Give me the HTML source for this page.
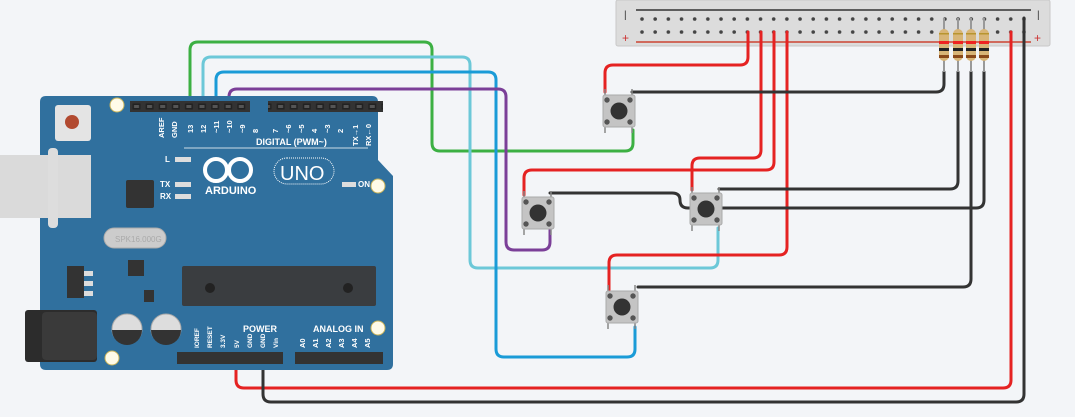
<!DOCTYPE html>
<html><head><meta charset="utf-8"><style>
html,body{margin:0;padding:0;background:#f3f5f8;}
svg{display:block;font-family:"Liberation Sans",sans-serif;}
</style></head><body>
<svg width="1075" height="417" viewBox="0 0 1075 417" xmlns="http://www.w3.org/2000/svg">
<rect width="1075" height="417" fill="#f3f5f8"/>
<rect x="616" y="0" width="434" height="46" rx="2" fill="#dcdcdc" stroke="#c8c8c8"/>
<line x1="636" y1="10" x2="1031" y2="10" stroke="#333" stroke-width="1.5"/>
<line x1="636" y1="42" x2="1031" y2="42" stroke="#c43" stroke-width="1.5"/>
<text x="624" y="18" font-size="10" fill="#333">|</text><text x="1037" y="18" font-size="10" fill="#333">|</text>
<text x="622" y="42" font-size="12" fill="#c33">+</text><text x="1034" y="42" font-size="12" fill="#c33">+</text>
<defs>
<pattern id="h" x="636.5" y="12" width="13.17" height="13" patternUnits="userSpaceOnUse"><circle cx="5.5" cy="7" r="1.8" fill="#444"/></pattern>
<pattern id="p" x="130" y="101" width="13.1" height="11" patternUnits="userSpaceOnUse"><rect x="2.5" y="2.5" width="8" height="6" fill="#222"/><rect x="4" y="4" width="5" height="3" fill="#555"/></pattern>
</defs>
<rect x="636" y="12" width="395" height="26" fill="url(#h)"/>
<g fill="none" stroke-width="3" stroke-linecap="round" stroke-linejoin="round">
<path d="M190 108 V50 Q190 42 198 42 H424 Q432 42 432 50 V143 Q432 151 440 151 H625 Q633 151 633 143 V130" stroke="#3cb043"/>
<path d="M203 108 V65 Q203 57 211 57 H462 Q470 57 470 65 V260 Q470 268 478 268 H710 Q718 268 718 260 V228" stroke="#6cc8d8"/>
<path d="M216 108 V80 Q216 72 224 72 H488 Q496 72 496 80 V349 Q496 357 504 357 H627 Q635 357 635 349 V327" stroke="#1a9bd7"/>
<path d="M229 108 V97 Q229 89 237 89 H498 Q506 89 506 97 V242 Q506 250 514 250 H542 Q550 250 550 242 V230" stroke="#7b3f98"/>
<g stroke="#e52222">
<path d="M748 32 V57 Q748 65 740 65 H613 Q605 65 605 73 V92"/>
<path d="M761 32 V150 Q761 158 753 158 H700 Q692 158 692 166 V190"/>
<path d="M774 32 V162 Q774 170 766 170 H532 Q524 170 524 178 V195"/>
<path d="M787 32 V247 Q787 255 779 255 H617 Q609 255 609 263 V290"/>
<path d="M1011 32 V380 Q1011 388 1003 388 H244 Q236 388 236 380 V356"/>
</g>
<g stroke="#333">
<path d="M1024 18 V394 Q1024 402 1016 402 H271 Q263 402 263 394 V356"/>
<path d="M632 92 H936 Q944 92 944 84 V72"/>
<path d="M719 189 H950 Q958 189 958 181 V72"/>
<path d="M550 193 H672 Q680 193 680 200 Q680 208 688 208 H976 Q984 208 984 200 V72"/>
<path d="M638 287 H963 Q971 287 971 279 V72"/>
</g>
</g>
<g>
<g id="r"><line x1="944" y1="18" x2="944" y2="72" stroke="#999" stroke-width="2"/>
<rect x="939" y="29" width="10" height="32" rx="5" fill="#d8b577"/>
<rect x="939" y="41" width="10" height="3" fill="#e22"/><rect x="939" y="48" width="10" height="3" fill="#222"/><rect x="939" y="55" width="10" height="3" fill="#8a4a1a"/><rect x="939" y="33" width="10" height="1.5" fill="#b8952f"/></g>
<use href="#r" x="14"/><use href="#r" x="27"/><use href="#r" x="40"/>
</g>
<g id="b">
<line x1="605" y1="89" x2="605" y2="133" stroke="#888" stroke-width="1.5"/><line x1="632" y1="89" x2="632" y2="133" stroke="#888" stroke-width="1.5"/>
<rect x="603" y="95" width="32" height="32" rx="2" fill="#c4c4c4" stroke="#aaa"/>
<circle cx="607" cy="100" r="2.7" fill="#555"/><circle cx="630" cy="100" r="2.7" fill="#555"/><circle cx="607" cy="122" r="2.7" fill="#555"/><circle cx="630" cy="122" r="2.7" fill="#555"/>
<circle cx="619" cy="111" r="8.5" fill="#333"/></g>
<use href="#b" x="-81" y="102"/><use href="#b" x="87" y="98"/><use href="#b" x="3" y="196"/>
<path d="M46 96 H372 Q378 96 378 102 V160 L393 176 V364 Q393 370 387 370 H46 Q40 370 40 364 V102 Q40 96 46 96Z" fill="#30709e"/>
<rect x="0" y="155" width="91" height="63" fill="#dadada"/><rect x="48" y="148" width="10" height="80" rx="4" fill="#ddd"/>
<rect x="55" y="105" width="36" height="36" rx="3" fill="#e4e4e4"/><circle cx="72" cy="122" r="7" fill="#b24a30"/>
<circle cx="117" cy="105" r="7" fill="#fffbe8" stroke="#c9b35a"/><circle cx="378" cy="186" r="7" fill="#fffbe8" stroke="#c9b35a"/>
<circle cx="378" cy="328" r="7" fill="#fffbe8" stroke="#c9b35a"/><circle cx="112" cy="358" r="7" fill="#fffbe8" stroke="#c9b35a"/>
<rect x="130" y="101" width="120" height="11" fill="#333"/><rect x="268" y="101" width="115" height="11" fill="#333"/>
<rect x="177" y="352" width="106" height="12" fill="#333"/><rect x="295" y="352" width="88" height="12" fill="#333"/>
<rect x="130" y="101" width="120" height="11" fill="url(#p)"/><rect x="268" y="101" width="115" height="11" fill="url(#p)"/>
<rect x="126" y="180" width="28" height="28" rx="2" fill="#333"/>
<rect x="104" y="228" width="62" height="20" rx="10" fill="#ccc" stroke="#aaa"/><text x="115" y="242" font-size="8" fill="#aaa">SPK16.000G</text>
<rect x="128" y="260" width="16" height="16" fill="#333"/>
<rect x="67" y="266" width="17" height="32" fill="#333"/><rect x="84" y="271" width="9" height="5" fill="#ddd"/><rect x="84" y="281" width="9" height="5" fill="#ddd"/><rect x="84" y="291" width="9" height="5" fill="#ddd"/>
<rect x="144" y="290" width="10" height="12" fill="#333"/>
<rect x="25" y="310" width="72" height="52" rx="3" fill="#2c2c2c"/><rect x="42" y="312" width="55" height="48" rx="4" fill="#3a3a3a"/>
<circle cx="127" cy="329" r="15" fill="#ddd" stroke="#aaa"/><path d="M112 330 H142 A15 15 0 0 1 112 330Z" fill="#333"/>
<circle cx="166" cy="329" r="15" fill="#ddd" stroke="#aaa"/><path d="M151 330 H181 A15 15 0 0 1 151 330Z" fill="#333"/>
<rect x="182" y="266" width="194" height="40" rx="2" fill="#3a3d40"/><circle cx="210" cy="288" r="5" fill="#222"/><circle cx="348" cy="288" r="5" fill="#222"/>
<rect x="175" y="157" width="16" height="5" fill="#ddd"/><rect x="175" y="182" width="16" height="5" fill="#ddd"/><rect x="175" y="194" width="16" height="5" fill="#ddd"/><rect x="342" y="182" width="14" height="5" fill="#ddd"/>
<g fill="#fff" font-size="8" font-weight="bold"><text x="165" y="162">L</text><text x="160" y="187">TX</text><text x="160" y="199">RX</text><text x="358" y="187">ON</text>
<text x="256" y="145" font-size="9">DIGITAL (PWM~)</text><text x="243" y="332" font-size="9">POWER</text><text x="313" y="332" font-size="9">ANALOG IN</text>
<text x="205" y="194" font-size="11">ARDUINO</text></g>
<line x1="184" y1="148" x2="368" y2="148" stroke="#fff" stroke-width="0.8"/>
<g fill="none" stroke="#fff" stroke-width="4"><circle cx="216" cy="170" r="11"/><circle cx="240" cy="170" r="11"/></g>
<rect x="274" y="158" width="60" height="26" rx="13" fill="none" stroke="#fff" stroke-width="1" stroke-dasharray="1 1"/><text x="280" y="180" font-size="20" fill="#fff">UNO</text>
<g fill="#fff" font-size="7.5" font-weight="bold">
<text transform="translate(164,138) rotate(-90)">AREF</text><text transform="translate(177,138) rotate(-90)">GND</text><text transform="translate(193,133) rotate(-90)">13</text><text transform="translate(206,133) rotate(-90)">12</text><text transform="translate(219,133) rotate(-90)">~11</text><text transform="translate(232,133) rotate(-90)">~10</text><text transform="translate(245,133) rotate(-90)">~9</text><text transform="translate(258,133) rotate(-90)">8</text>
<text transform="translate(278,133) rotate(-90)">7</text><text transform="translate(291,133) rotate(-90)">~6</text><text transform="translate(304,133) rotate(-90)">~5</text><text transform="translate(317,133) rotate(-90)">4</text><text transform="translate(330,133) rotate(-90)">~3</text><text transform="translate(343,133) rotate(-90)">2</text><text transform="translate(358,146) rotate(-90)">TX→1</text><text transform="translate(371,146) rotate(-90)">RX←0</text>
<text transform="translate(199,348) rotate(-90)" font-size="6.5">IOREF</text><text transform="translate(212,348) rotate(-90)" font-size="6.5">RESET</text><text transform="translate(225,348) rotate(-90)" font-size="6.5">3.3V</text><text transform="translate(239,348) rotate(-90)" font-size="6.5">5V</text><text transform="translate(252,348) rotate(-90)" font-size="6.5">GND</text><text transform="translate(265,348) rotate(-90)" font-size="6.5">GND</text><text transform="translate(278,348) rotate(-90)" font-size="6.5">Vin</text>
<text transform="translate(305,348) rotate(-90)">A0</text><text transform="translate(318,348) rotate(-90)">A1</text><text transform="translate(331,348) rotate(-90)">A2</text><text transform="translate(344,348) rotate(-90)">A3</text><text transform="translate(357,348) rotate(-90)">A4</text><text transform="translate(370,348) rotate(-90)">A5</text>
</g>
</svg>
</body></html>
